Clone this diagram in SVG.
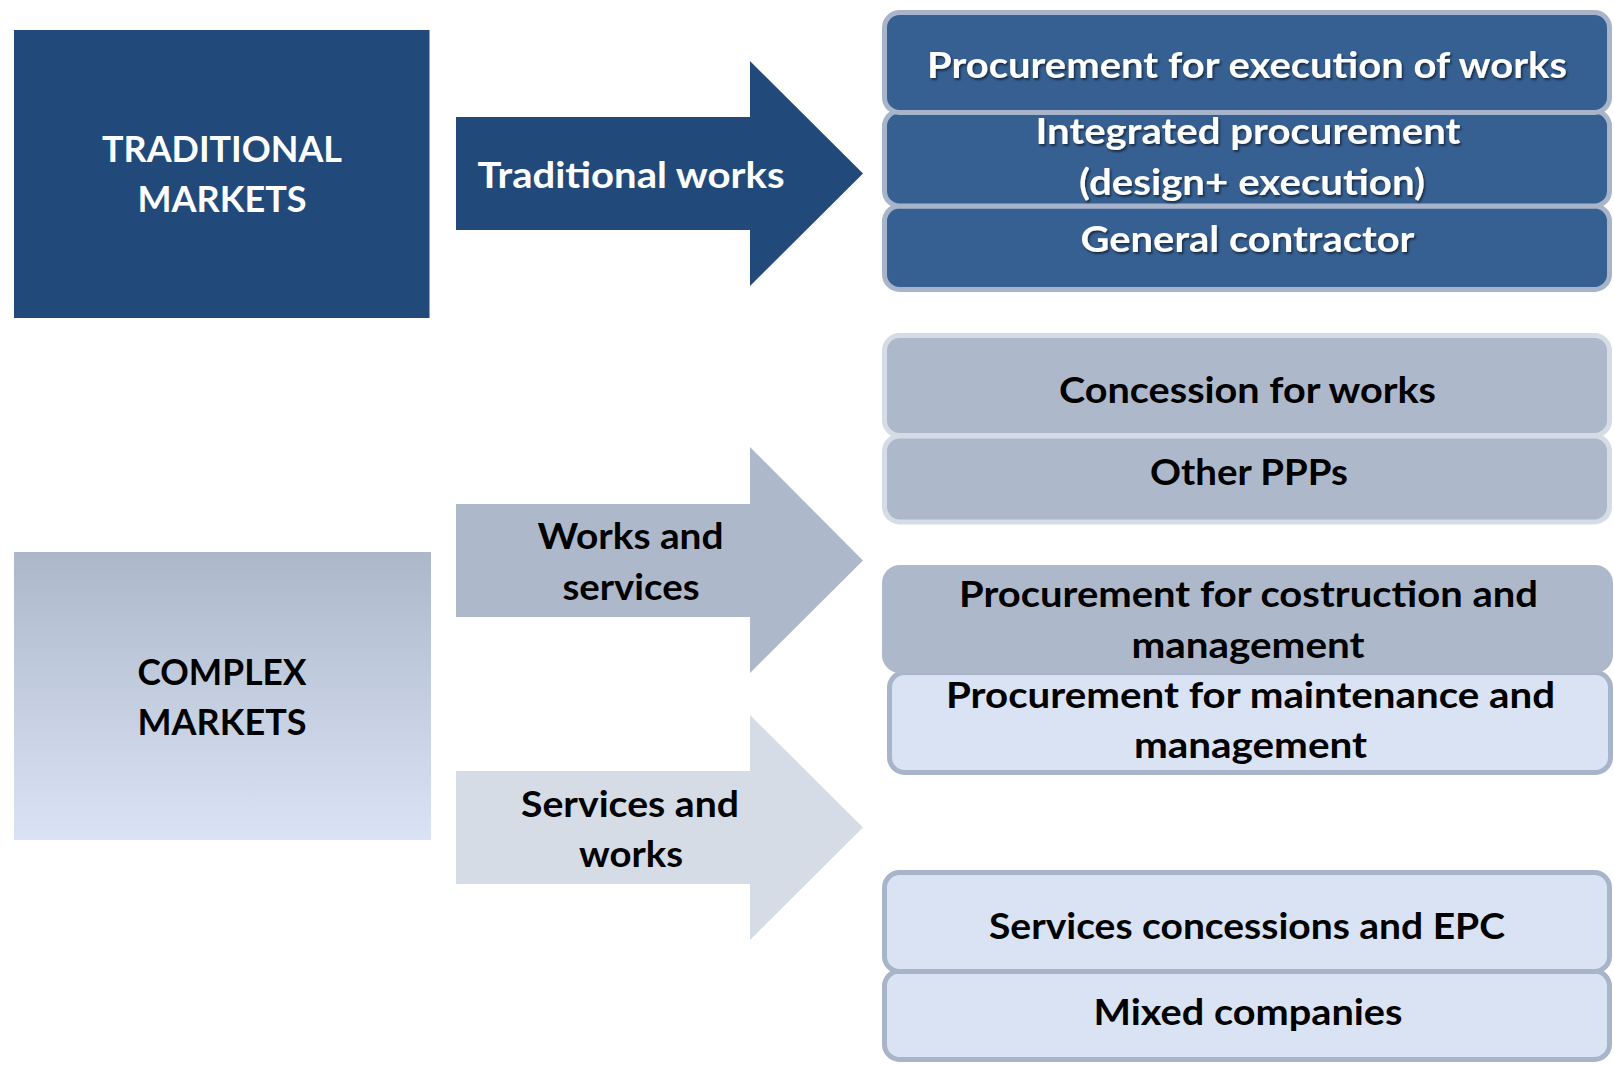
<svg xmlns="http://www.w3.org/2000/svg" width="1614" height="1067" viewBox="0 0 1614 1067">
<style>
  text { font-family: Lato, "Open Sans", "Liberation Sans", sans-serif; font-weight: bold; font-size: 37px; text-anchor: middle; }
  .w { fill: #ffffff; }
  .k { fill: #000000; }
  .sh { filter: url(#shadow); }
  .dark { fill: #366092; stroke: #A7B4C9; stroke-width: 5; }
  .mid { fill: #ADB9CA; stroke: #D5DCE6; stroke-width: 5; }
  .lite { fill: #DAE3F3; stroke: #A7B4C9; stroke-width: 5; }
</style>
<defs>
  <linearGradient id="cg" x1="0" y1="0" x2="0" y2="1">
    <stop offset="0" stop-color="#ACB8CA"/>
    <stop offset="1" stop-color="#DAE3F4"/>
  </linearGradient>
  <filter id="shadow" x="-5%" y="-20%" width="110%" height="150%">
    <feDropShadow dx="1.5" dy="2" stdDeviation="1.2" flood-color="#000" flood-opacity="0.55"/>
  </filter>
</defs>
<rect width="1614" height="1067" fill="#ffffff"/>

<g id="traditional-markets">
  <rect x="14" y="30" width="415.5" height="288" fill="#214A7B"/>
  <text class="w" x="222" y="162" textLength="240" lengthAdjust="spacingAndGlyphs">TRADITIONAL</text>
  <text class="w" x="222" y="212" textLength="169" lengthAdjust="spacingAndGlyphs">MARKETS</text>
</g>

<g id="complex-markets">
  <rect x="14" y="552" width="417" height="288" fill="url(#cg)"/>
  <text class="k" x="222" y="685" textLength="169" lengthAdjust="spacingAndGlyphs">COMPLEX</text>
  <text class="k" x="222" y="735" textLength="169" lengthAdjust="spacingAndGlyphs">MARKETS</text>
</g>

<g id="connectors">
  <g id="arrow-traditional-works">
    <polygon points="456,117 750,117 750,61 863,173.5 750,286 750,230 456,230" fill="#214A7B"/>
    <text class="w" x="631" y="187.5" textLength="307" lengthAdjust="spacingAndGlyphs">Traditional works</text>
  </g>
  <g id="arrow-works-services">
    <polygon points="456,504 750,504 750,447 863,560.5 750,673 750,617 456,617" fill="#ADB9CA"/>
    <text class="k" x="630.5" y="548.5" textLength="186" lengthAdjust="spacingAndGlyphs">Works and</text>
    <text class="k" x="631" y="600" textLength="137" lengthAdjust="spacingAndGlyphs">services</text>
  </g>
  <g id="arrow-services-works">
    <polygon points="456,771 750,771 750,715 863,827.5 750,940 750,884 456,884" fill="#D6DCE5"/>
    <text class="k" x="630" y="816.5" textLength="218" lengthAdjust="spacingAndGlyphs">Services and</text>
    <text class="k" x="631" y="866.5" textLength="104" lengthAdjust="spacingAndGlyphs">works</text>
  </g>
</g>

<g id="general-contractor">
  <rect class="dark" x="884.5" y="206" width="725" height="83.5" rx="15"/>
  <text class="w sh" x="1247.5" y="252" textLength="334" lengthAdjust="spacingAndGlyphs">General contractor</text>
</g>
<g id="integrated-procurement">
  <rect class="dark" x="884.5" y="111" width="725" height="95" rx="15"/>
  <text class="w sh" x="1248" y="144" textLength="425" lengthAdjust="spacingAndGlyphs">Integrated procurement</text>
  <text class="w sh" x="1252" y="194.5" textLength="346" lengthAdjust="spacingAndGlyphs">(design+ execution)</text>
</g>
<g id="procurement-execution">
  <rect class="dark" x="884.5" y="12.5" width="725" height="100" rx="15"/>
  <text class="w sh" x="1247" y="78" textLength="640" lengthAdjust="spacingAndGlyphs">Procurement for execution of works</text>
</g>

<g id="other-ppps">
  <rect class="mid" x="884.5" y="436" width="725" height="86" rx="15"/>
  <text class="k" x="1249" y="485" textLength="198" lengthAdjust="spacingAndGlyphs">Other PPPs</text>
</g>
<g id="concession-works">
  <rect class="mid" x="884.5" y="335.5" width="725" height="100" rx="15"/>
  <text class="k" x="1247.5" y="402.5" textLength="377" lengthAdjust="spacingAndGlyphs">Concession for works</text>
</g>

<g id="procurement-maintenance">
  <rect class="lite" x="889.5" y="672.5" width="721" height="100" rx="15"/>
  <text class="k" x="1250.5" y="708" textLength="609" lengthAdjust="spacingAndGlyphs">Procurement for maintenance and</text>
  <text class="k" x="1250.5" y="758" textLength="233" lengthAdjust="spacingAndGlyphs">management</text>
</g>
<g id="procurement-construction">
  <rect x="882" y="565" width="731" height="108" rx="18" fill="#ADB9CA"/>
  <text class="k" x="1248.5" y="606.5" textLength="579" lengthAdjust="spacingAndGlyphs">Procurement for costruction and</text>
  <text class="k" x="1248" y="658" textLength="233" lengthAdjust="spacingAndGlyphs">management</text>
</g>

<g id="mixed-companies">
  <rect class="lite" x="884.5" y="971" width="725" height="88.5" rx="15"/>
  <text class="k" x="1248" y="1025" textLength="309" lengthAdjust="spacingAndGlyphs">Mixed companies</text>
</g>
<g id="services-concessions">
  <rect class="lite" x="884.5" y="872.5" width="725" height="99" rx="15"/>
  <text class="k" x="1247" y="939" textLength="516" lengthAdjust="spacingAndGlyphs">Services concessions and EPC</text>
</g>
</svg>
